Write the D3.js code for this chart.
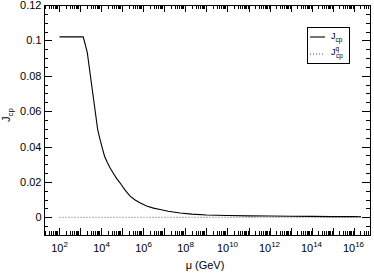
<!DOCTYPE html>
<html>
<head>
<meta charset="utf-8">
<script src="https://cdn.jsdelivr.net/npm/d3@7"></script>
<style>
  body { margin: 0; background: #fff; }
  svg { display: block; font-family: "Liberation Sans", Arial, sans-serif; }
</style>
</head>
<body>
<div id="chart"></div>
<script>
// energy scale mu (GeV) and the two series
const mu = [100, 1350, 2100, 6600, 8500, 11000, 14000, 19000, 25000, 36000, 52000, 76000, 1.3e5, 2.3e5, 4e5, 6.7e5, 1.4e6, 3e6, 6.2e6, 1.5e7, 5.5e7, 2e8, 1e9, 1e10, 1e11, 1e12, 1e13, 1e14, 1e15, 1e16, 2.3e16];
const jcp = [0.102, 0.102, 0.0932, 0.0495, 0.0440, 0.0390, 0.0345, 0.0310, 0.0282, 0.0250, 0.0220, 0.0195, 0.0155, 0.0120, 0.0098, 0.0082, 0.0064, 0.0052, 0.0044, 0.0034, 0.0024, 0.0018, 0.0013, 0.0010, 0.0008, 0.0007, 0.0006, 0.0005, 0.0004, 0.0004, 0.0003];
const jcpq = mu.map(() => 0);

const yTicks = [0, 0.02, 0.04, 0.06, 0.08, 0.1, 0.12];
const yTickLabels = ["0", "0.02", "0.04", "0.06", "0.08", "0.1", "0.12"];
const xLabelExps = [2, 4, 6, 8, 10, 12, 14, 16];

const width = 374;
const height = 274;
const plotLeft = 44, plotRight = 370, plotTop = 5, plotBottom = 235;

const svg = d3.select("#chart")
  .append("svg")
  .attr("width", width)
  .attr("height", height);

const x = d3.scaleLog().domain([18.3, 6.1e16]).range([plotLeft, plotRight]);
const y = d3.scaleLinear().domain([-0.01, 0.12]).range([plotBottom, plotTop]);

// ticks, mirrored on all sides and pointing inward
const ticks = svg.append("g").attr("stroke", "#000").attr("stroke-width", 1);

const yMinor = d3.range(-0.005, 0.1201, 0.005);
yMinor.forEach((v) => {
  const isMajor = yTicks.some((t) => Math.abs(t - v) < 1e-9);
  const len = isMajor ? 8 : 4;
  const yy = Math.round(y(v)) + 0.5;
  ticks.append("line").attr("x1", plotLeft).attr("x2", plotLeft + len).attr("y1", yy).attr("y2", yy);
  ticks.append("line").attr("x1", plotRight).attr("x2", plotRight - len).attr("y1", yy).attr("y2", yy);
});

for (let e = 1; e <= 16; e++) {
  for (let m = 1; m <= 9; m++) {
    const v = m * Math.pow(10, e);
    if (v < x.domain()[0] || v > x.domain()[1]) continue;
    const len = m === 1 ? 7 : 4;
    const xx = Math.round(x(v)) + 0.5;
    ticks.append("line").attr("x1", xx).attr("x2", xx).attr("y1", plotBottom).attr("y2", plotBottom - len);
    ticks.append("line").attr("x1", xx).attr("x2", xx).attr("y1", plotTop).attr("y2", plotTop + len);
  }
}

// frame
svg.append("rect")
  .attr("x", plotLeft + 0.5)
  .attr("y", plotTop + 0.5)
  .attr("width", plotRight - plotLeft)
  .attr("height", plotBottom - plotTop)
  .attr("fill", "none")
  .attr("stroke", "#000");

// y tick labels
svg.append("g")
  .selectAll("text")
  .data(yTicks)
  .join("text")
  .attr("x", 41.5)
  .attr("y", (d) => y(d) + 4)
  .attr("text-anchor", "end")
  .attr("font-size", 11)
  .text((d, i) => yTickLabels[i]);

// x tick labels 10^n
const xl = svg.append("g")
  .selectAll("text")
  .data(xLabelExps)
  .join("text")
  .attr("x", (d) => x(Math.pow(10, d)))
  .attr("y", 251.5)
  .attr("text-anchor", "middle")
  .attr("font-size", 11);
xl.append("tspan").text("10");
xl.append("tspan").attr("dy", -5).attr("font-size", 8).text((d) => d);

// axis titles
svg.append("text")
  .attr("x", 205)
  .attr("y", 269)
  .attr("text-anchor", "middle")
  .attr("font-size", 11)
  .text("\u03bc (GeV)");

const yl = svg.append("text")
  .attr("transform", "translate(9.5,115) rotate(-90)")
  .attr("text-anchor", "middle")
  .attr("font-size", 11);
yl.append("tspan").text("J");
yl.append("tspan").attr("dy", 3).attr("font-size", 8).text("cp");

// series
const line = d3.line()
  .x((d) => x(d[0]))
  .y((d) => y(d[1]));

svg.append("path")
  .datum(mu.map((m, i) => [m, jcpq[i]]))
  .attr("fill", "none")
  .attr("stroke", "#555")
  .attr("stroke-width", 1)
  .attr("stroke-dasharray", "1,2")
  .attr("d", line);

svg.append("path")
  .datum(mu.map((m, i) => [m, jcp[i]]))
  .attr("fill", "none")
  .attr("stroke", "#000")
  .attr("stroke-width", 1.1)
  .attr("d", line);

// legend
const lg = svg.append("g");
lg.append("rect")
  .attr("x", 307.5).attr("y", 27.5)
  .attr("width", 42).attr("height", 36)
  .attr("fill", "#fff").attr("stroke", "#000");
lg.append("line")
  .attr("x1", 310).attr("x2", 325).attr("y1", 37).attr("y2", 37)
  .attr("stroke", "#000").attr("stroke-width", 1.1);
lg.append("line")
  .attr("x1", 310).attr("x2", 325).attr("y1", 54).attr("y2", 54)
  .attr("stroke", "#555").attr("stroke-dasharray", "1,2");
const t1 = lg.append("text").attr("x", 331).attr("y", 39).attr("font-size", 9);
t1.append("tspan").text("J");
t1.append("tspan").attr("dy", 2.5).attr("font-size", 6.5).text("cp");
const t2 = lg.append("text").attr("x", 331).attr("y", 55).attr("font-size", 9);
t2.append("tspan").text("J");
t2.append("tspan").attr("dy", -4).attr("font-size", 6.5).text("q");
t2.append("tspan").attr("x", 336).attr("dy", 6.5).attr("font-size", 6.5).text("cp");
</script>
</body>
</html>
